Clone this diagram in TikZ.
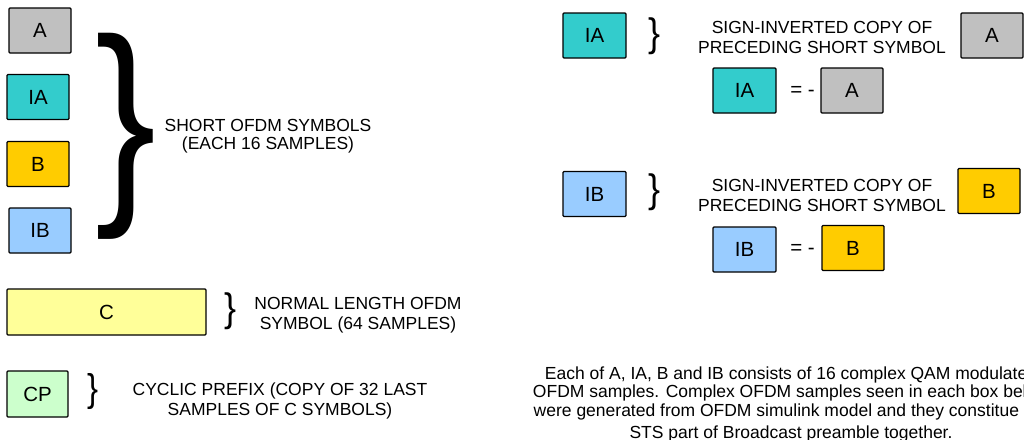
\documentclass[tikz,border=0pt]{standalone}
\usepackage{fontspec}
\setmainfont{Liberation Sans}
\usetikzlibrary{positioning}

\definecolor{symA}{HTML}{C0C0C0}
\definecolor{symIA}{HTML}{33CCCC}
\definecolor{symB}{HTML}{FFCC00}
\definecolor{symIB}{HTML}{99CCFF}
\definecolor{symC}{HTML}{FFFF99}
\definecolor{symCP}{HTML}{CCFFCC}

% a curly brace stretched to a given width and total height
\newcommand{\brc}[2]{\resizebox*{#1}{#2}{\}}}

\tikzset{
  every node/.style={font=\fontsize{17.5}{20}\selectfont, inner sep=0pt},
  sym/.style={draw, line width=1.3pt, rounded corners=1pt,
              minimum width=62pt, minimum height=45pt,
              font=\fontsize{20.5}{22}\selectfont},
  note/.style={align=center},
  eqsign/.style={font=\fontsize{20.5}{22}\selectfont}
}

\begin{document}
\begin{tikzpicture}[x=1pt,y=-1pt]
\useasboundingbox (0,0) rectangle (1024,439);
\clip (0,0) rectangle (1024,439);

% short symbols
\node[sym,fill=symA] (a) at (40,30.5) {A};
\node[sym,fill=symIA] (ia) at (38,97) {IA};
\node[sym,fill=symB] (b) at (38,164) {B};
\node[sym,fill=symIB] (ib) at (40,230.5) {IB};
\node (bigbrace) at (126.5,136) {\brc{61pt}{206pt}};
\node[note,font=\fontsize{17.5}{18}\selectfont] (shorttxt) at (268,136) {SHORT OFDM SYMBOLS\\(EACH 16 SAMPLES)};

% long symbol
\node[sym,fill=symC,minimum width=199pt,minimum height=46pt] (c) at (106.5,312) {C};
\node (cbrace) at (230,311.5) {\brc{12pt}{37pt}};
\node[note] (ctxt) at (358,315) {NORMAL LENGTH OFDM\\SYMBOL (64 SAMPLES)};

% cyclic prefix
\node[sym,fill=symCP,minimum width=61pt,minimum height=46pt] (cp) at (37.5,394) {CP};
\node (cpbrace) at (92.5,392) {\brc{11pt}{36pt}};
\node[note] (cptxt) at (280,401) {CYCLIC PREFIX (COPY OF 32 LAST\\SAMPLES OF C SYMBOLS)};

% IA = -A
\node[sym,fill=symIA,minimum width=63pt] (iar) at (594.5,35.5) {IA};
\node (iabrace) at (654,36.5) {\brc{12pt}{37pt}};
\node[note] (iatxt) at (822,37.5) {SIGN-INVERTED COPY OF\\PRECEDING SHORT SYMBOL};
\node[sym,fill=symA] (ar) at (992,35.5) {A};
\node[sym,fill=symIA,minimum width=63pt] (ial) at (744.5,90.5) {IA};
\node[eqsign] (iaeq) at (802.5,91) {= -};
\node[sym,fill=symA] (al) at (852,90.5) {A};

% IB = -B
\node[sym,fill=symIB,minimum width=63pt] (ibr) at (594.5,194) {IB};
\node (ibbrace) at (654,192.5) {\brc{12pt}{37pt}};
\node[note] (ibtxt) at (822,195.5) {SIGN-INVERTED COPY OF\\PRECEDING SHORT SYMBOL};
\node[sym,fill=symB] (br) at (989,191) {B};
\node[sym,fill=symIB,minimum width=63pt] (ibl) at (744.5,249.5) {IB};
\node[eqsign] (ibeq) at (802.5,249) {= -};
\node[sym,fill=symB] (bl) at (853,248) {B};

\node[note,font=\fontsize{17.5}{18.3}\selectfont] (ststxt) at (791,404.5)
  {Each of A, IA, B and IB consists of 16 complex QAM modulated\\
   OFDM samples. Complex OFDM samples seen in each box below\\
   were generated from OFDM simulink model and they constitue the\\[4pt]
   STS part of Broadcast preamble together.};
\end{tikzpicture}
\end{document}
